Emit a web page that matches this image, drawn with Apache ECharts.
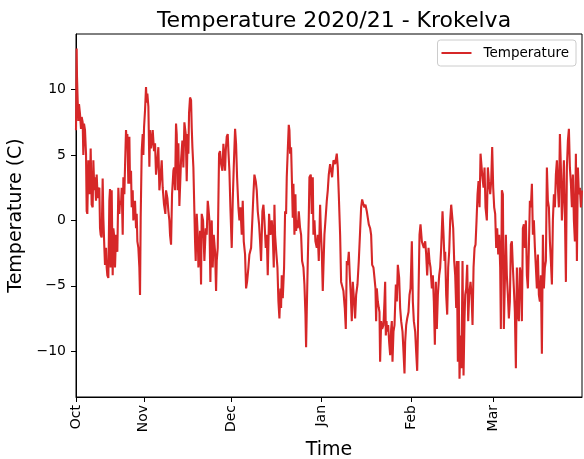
<!DOCTYPE html>
<html>
<head>
<meta charset="utf-8">
<script src="https://cdn.jsdelivr.net/npm/echarts@6/dist/echarts.min.js"></script>
<style>html,body{margin:0;padding:0;background:#fff}#c{width:584px;height:459px}</style>
</head>
<body>
<div id="c"></div>
<script>
// Time in days since 2020-10-01 00:00
const days = [7.70,7.93,8.04,8.27,8.50,8.73,9.07,9.42,9.65,9.99,10.22,10.45,10.79,11.14,11.37,11.59,11.94,12.28,12.51,12.74,13.08,13.43,13.66,14.00,14.23,14.57,14.80,15.15,15.37,15.72,15.95,16.18,16.52,16.86,17.09,17.44,17.66,18.01,18.24,18.47,18.81,19.15,19.38,19.61,19.96,20.30,20.53,20.76,21.10,21.45,21.90,22.25,22.59,22.82,23.16,23.39,23.74,23.97,24.31,24.54,24.88,25.11,25.34,25.68,26.03,26.26,26.60,26.83,27.17,27.40,27.75,27.97,28.32,28.55,28.78,29.12,29.46,29.69,29.92,30.27,30.61,30.84,31.07,31.41,31.75,31.98,32.21,32.56,32.90,33.13,33.47,33.70,34.05,34.50,34.85,35.19,35.65,35.99,36.34,36.80,37.14,37.48,37.94,38.40,38.63,39.09,39.43,39.77,40.00,40.35,40.69,41.15,41.38,41.72,42.06,42.29,42.64,42.87,43.21,43.44,43.78,44.24,44.58,44.93,45.39,45.73,46.07,46.30,46.53,46.87,47.22,47.45,47.68,48.02,48.36,48.59,48.82,49.17,49.51,49.74,50.08,50.31,50.65,50.88,51.34,51.80,52.26,52.60,52.95,53.17,53.52,53.86,54.09,54.32,54.66,55.01,55.47,55.81,56.04,56.38,56.84,57.18,57.53,57.99,58.33,58.67,58.90,59.13,59.48,59.82,60.05,60.39,60.73,61.19,61.54,61.88,62.34,62.68,63.03,63.48,63.83,64.17,64.63,64.97,65.32,65.77,66.12,66.46,66.92,67.26,67.84,68.30,68.64,68.98,69.44,69.78,70.13,70.59,70.93,71.27,71.73,72.08,72.42,72.88,73.22,73.56,74.02,74.48,74.94,75.28,75.63,75.86,76.08,76.54,76.89,77.23,77.57,77.92,78.14,78.37,78.72,79.17,79.52,79.86,80.09,80.43,80.78,81.01,81.24,81.58,81.92,82.15,82.38,82.73,83.07,83.30,83.53,83.87,84.21,84.67,85.02,85.36,85.82,86.16,86.51,86.73,86.96,87.31,87.65,87.88,88.34,88.68,89.03,89.25,89.60,89.94,90.40,90.74,91.09,91.55,91.78,92.12,92.46,92.69,93.03,93.38,93.84,94.18,94.52,94.98,95.33,95.67,96.13,96.70,97.27,97.62,97.96,98.42,98.76,99.11,99.56,100.02,100.37,100.71,101.05,101.40,101.74,102.08,102.43,102.77,103.23,103.57,103.92,104.38,104.83,105.29,105.64,105.98,106.44,106.78,107.12,107.58,107.93,108.27,108.73,109.07,109.42,109.87,110.22,110.56,110.79,111.02,111.36,111.71,111.94,112.16,112.51,112.85,113.31,113.65,113.89,114.12,114.35,114.58,114.92,115.26,115.61,115.95,116.18,116.41,116.75,117.10,117.56,117.90,118.24,118.70,119.04,119.39,119.85,120.19,120.53,120.76,121.11,121.45,121.91,122.25,122.60,122.82,123.05,123.40,123.74,124.20,124.54,124.89,125.12,125.34,125.69,126.03,126.49,126.83,127.18,127.64,127.98,128.32,128.78,129.12,129.47,129.93,130.27,130.61,130.96,131.30,131.64,131.99,132.45,132.79,133.13,133.59,133.94,134.28,134.51,134.85,135.20,135.54,135.88,136.23,136.57,136.91,137.26,137.60,137.95,138.29,138.52,138.86,139.09,139.43,139.78,140.12,140.46,140.81,141.15,141.38,141.72,142.07,142.41,142.76,143.21,143.56,143.90,144.25,144.59,144.93,145.28,145.62,145.96,146.31,146.65,146.99,147.22,147.68,148.02,148.36,148.82,149.16,149.51,149.97,150.31,150.65,151.00,151.34,151.68,152.03,152.37,152.72,153.06,153.40,153.63,153.98,154.32,154.66,155.01,155.35,155.69,156.04,156.38,156.72,157.07,157.41,157.76,158.10,158.44,158.79,159.13,159.47,159.82,160.16,160.51,160.85,161.19,161.54,161.88,162.22,162.57,162.91,163.25,163.60,163.94,164.29,164.63,164.97,165.32,165.66,166.00,166.35,166.69,167.03,167.38,167.72,168.07,168.41,168.75,169.10,169.44,169.78,170.13,170.47,170.81,171.16,171.50,171.85,172.19,172.53,172.88,173.22,173.56,173.91,174.25,174.59,174.94,175.28,175.63,175.97,176.31,176.66,177.00,177.34,177.69,178.03,178.37,178.72,179.06,179.40,179.75,180.09,180.43,180.78,181.12,181.47];
const temps = [6.9,13.15,11.0,9.2,7.6,8.9,8.15,7.0,7.9,7.5,5.0,7.4,6.9,5.1,0.7,0.5,4.6,2.0,2.8,5.5,1.2,1.0,4.6,2.3,3.3,1.5,3.5,1.7,2.3,2.5,-0.6,-1.1,-1.3,3.2,0.2,-2.1,-3.4,-2.1,-3.6,-4.2,-4.4,1.5,2.4,-3.6,2.3,-4.2,-0.6,-1.1,-3.6,-1.1,-2.4,2.5,0.5,1.5,1.2,2.5,-1.1,3.3,2.0,4.1,6.9,6.0,6.6,2.8,6.4,2.8,3.8,1.0,2.3,0.0,0.5,1.5,-0.6,0.5,-1.6,-2.1,-3.6,-5.7,0.2,5.3,6.6,5.0,7.1,8.4,10.2,9.0,9.7,8.7,4.1,6.9,5.5,5.9,6.9,5.3,5.9,3.5,4.6,5.6,2.3,3.5,4.6,2.5,1.2,0.5,2.3,1.7,0.7,0.0,-1.1,-1.85,2.0,3.8,4.05,2.3,7.4,6.6,2.3,5.9,1.1,1.1,4.6,6.1,4.05,7.5,6.6,3.0,6.6,5.1,8.2,9.4,9.2,7.1,5.6,4.05,0.7,-1.6,-3.1,0.5,-1.1,-3.6,-2.6,-0.8,-4.9,0.5,0.0,-3.1,-0.6,-1.1,1.5,1.0,0.0,-4.7,-1.1,0.0,-3.6,-1.1,-2.4,-5.4,-3.1,-2.1,5.1,5.3,4.3,3.8,5.85,4.6,3.8,5.3,6.4,6.6,5.3,3.8,1.0,-2.1,1.5,4.05,7.0,5.85,3.3,1.0,0.0,1.0,-1.1,1.5,-1.6,-2.6,-5.2,-4.7,-3.6,-2.6,-2.1,0.2,2.0,3.5,3.0,2.3,0.7,-0.3,-1.6,-3.1,0.7,1.2,0.0,-2.1,-1.1,-4.2,0.5,-1.1,0.0,-1.1,-3.6,1.2,-1.1,-2.6,-3.6,-6.2,-7.5,-5.2,-6.7,-4.2,-5.95,-3.6,0.7,0.5,3.3,5.3,7.3,6.9,5.1,5.6,2.5,0.2,2.8,-1.1,2.0,-0.8,0.0,-0.6,0.7,-0.6,-1.1,-3.1,-3.6,-4.9,-7.2,-9.7,-7.0,-3.1,0.2,3.3,3.5,0.5,3.3,-1.1,0.0,-1.6,-2.1,-1.1,-3.1,1.2,-0.6,-2.4,-5.4,-3.6,-1.1,0.0,1.5,2.3,3.5,4.3,3.8,3.3,4.6,4.3,5.1,4.05,2.0,-1.1,-4.7,-4.7,-5.4,-6.7,-8.3,-3.1,-3.4,-2.4,-4.2,-5.7,-7.7,-4.7,-6.2,-7.5,-5.7,-4.9,-3.1,-0.8,1.0,1.6,1.2,1.0,1.2,0.7,0.2,-0.3,-0.6,-1.1,-3.4,-3.6,-4.4,-5.2,-7.7,-5.2,-6.2,-6.7,-7.0,-10.8,-7.7,-8.3,-8.0,-6.2,-4.7,-8.8,-7.7,-8.5,-8.0,-9.3,-10.3,-8.3,-7.7,-10.8,-8.5,-8.0,-4.9,-6.2,-3.4,-4.4,-6.7,-7.7,-8.5,-10.05,-11.7,-9.3,-8.0,-7.5,-7.0,-5.7,-5.2,-3.6,-1.6,-6.2,-7.7,-8.5,-10.05,-11.5,-8.8,-5.7,-1.1,-0.3,-1.6,-1.85,-2.1,-1.6,-2.6,-4.2,-2.1,-3.1,-3.6,-5.2,-4.2,-6.2,-9.5,-4.7,-8.3,-5.7,-4.2,-3.6,-2.1,0.7,-1.1,-3.1,-2.4,-5.7,-7.2,-3.6,-2.4,0.0,1.2,1.1,-0.6,-3.1,-4.2,-6.7,-3.1,-10.8,-3.1,-12.1,-8.8,-11.3,-3.1,-11.85,-7.5,-5.7,-5.2,-3.4,-7.7,-5.7,-4.7,-5.7,-8.0,-3.6,-2.1,-1.85,0.0,2.0,3.0,1.0,5.1,5.0,3.5,2.5,4.05,1.0,0.0,4.05,3.0,2.0,3.0,5.6,2.5,1.0,0.5,-2.1,-0.6,-2.6,-1.1,-3.6,-8.3,2.3,2.0,-8.3,-8.4,-1.1,-4.2,-5.7,-7.5,-6.2,-1.85,-1.6,-3.6,-5.2,-7.0,-11.3,-3.6,-7.2,-7.7,-3.6,-4.2,-7.7,-0.6,-0.3,-2.1,0.0,-4.2,-5.2,-2.1,1.5,1.0,2.8,-1.1,0.0,-2.1,-3.6,-5.2,-2.6,-5.7,-6.2,-4.2,-10.2,-1.1,-5.2,-3.6,-3.1,4.05,1.5,1.0,-1.6,-3.1,-4.9,0.0,2.0,1.0,3.5,4.6,2.5,1.0,6.6,4.05,0.0,2.0,4.6,0.5,-4.7,4.05,6.1,7.0,4.05,2.8,1.0,3.5,0.0,-1.6,5.1,-3.1,4.05,2.0,2.5,1.0,2.3];
const tickDays = [7.7, 31, 61, 92, 123, 151];
const tickLabels = ['Oct', 'Nov', 'Dec', 'Jan', 'Feb', 'Mar'];
const yTicks = [-10, -5, 0, 5, 10];

const FONT = 'DejaVu Sans';
const chart = echarts.init(document.getElementById('c'), null, {renderer: 'canvas'});
const data = days.map((d, i) => [d, temps[i]]);

chart.setOption({
  animation: false,
  backgroundColor: '#fff',
  title: {
    text: 'Temperature 2020/21 - Krokelva',
    left: 329, top: 5, textAlign: 'center',
    textStyle: {fontFamily: FONT, fontSize: 22, fontWeight: 'normal', color: '#000'}
  },
  legend: {
    right: 8, top: 40,
    data: [{name: 'Temperature', icon: 'rect'}],
    backgroundColor: 'rgba(255,255,255,0.8)',
    borderColor: '#cccccc', borderWidth: 1, borderRadius: 3,
    padding: [6, 7, 6, 4],
    itemWidth: 30, itemHeight: 2,
    textStyle: {fontFamily: FONT, fontSize: 13.5, color: '#000', padding: [0, 0, 0, 7]}
  },
  grid: {
    left: 76, right: 2, top: 34, bottom: 62,
    show: true, borderColor: '#000', borderWidth: 1,
    containLabel: false, outerBoundsMode: 'none'
  },
  xAxis: {
    type: 'value', min: 7.7, max: 181.5,
    name: 'Time', nameLocation: 'middle', nameGap: 41,
    nameTextStyle: {fontFamily: FONT, fontSize: 19, color: '#000'},
    axisLine: {show: true, onZero: false, lineStyle: {color: '#000', width: 1}},
    axisTick: {show: true, customValues: tickDays, length: 5, lineStyle: {color: '#000'}},
    axisLabel: {
      customValues: tickDays, rotate: 90, margin: 8,
      fontFamily: FONT, fontSize: 14, color: '#000',
      formatter: function (v) {
        let best = 0;
        for (let i = 1; i < tickDays.length; i++) if (Math.abs(tickDays[i] - v) < Math.abs(tickDays[best] - v)) best = i;
        return tickLabels[best];
      }
    },
    splitLine: {show: false}
  },
  yAxis: {
    type: 'value', min: -13.5, max: 14.25,
    name: 'Temperature (C)', nameLocation: 'middle', nameGap: 46,
    nameTextStyle: {fontFamily: FONT, fontSize: 19, color: '#000'},
    axisLine: {show: true, onZero: false, lineStyle: {color: '#000', width: 1}},
    axisTick: {show: true, customValues: yTicks, length: 5, lineStyle: {color: '#000'}},
    axisLabel: {
      customValues: yTicks, margin: 10,
      fontFamily: FONT, fontSize: 14, color: '#000',
      formatter: function (v) { return v < 0 ? '\u2212' + Math.abs(v) : String(v); }
    },
    splitLine: {show: false}
  },
  series: [{
    type: 'line', name: 'Temperature', data: data,
    symbol: 'none', showSymbol: false,
    lineStyle: {color: '#d62728', width: 2.1},
    itemStyle: {color: '#d62728'}
  }]
});
</script>
</body>
</html>
